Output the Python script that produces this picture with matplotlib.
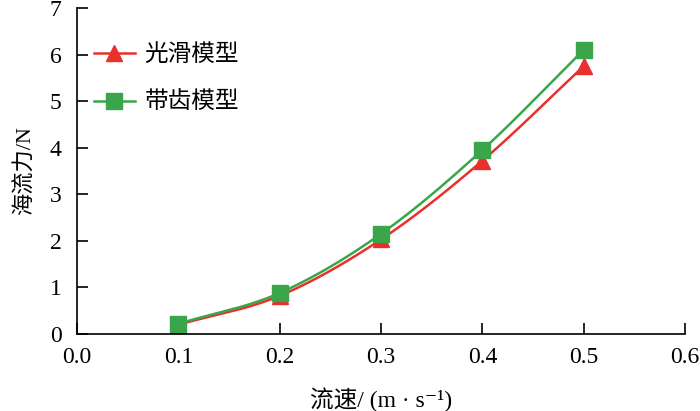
import numpy as np
import matplotlib.pyplot as plt

plt.rcParams['font.family'] = ['Liberation Serif', 'Noto Sans CJK SC', 'DejaVu Sans']

liusu = np.array([0.1, 0.2, 0.3, 0.4, 0.5])
guanghua = np.array([0.20, 0.82, 2.03, 3.72, 5.75])
daichi = np.array([0.22, 0.88, 2.15, 3.95, 6.10])


def smooth(x, y, n=200):
    # catmull-rom through the points, just for drawing the curve
    xs, ys = [], []
    p = np.concatenate([[2 * x[0] - x[1]], x, [2 * x[-1] - x[-2]]])
    q = np.concatenate([[2 * y[0] - y[1]], y, [2 * y[-1] - y[-2]]])
    for i in range(1, len(p) - 2):
        t = np.linspace(0, 1, n)
        for arr, out in ((p, xs), (q, ys)):
            a0, a1, a2, a3 = arr[i - 1], arr[i], arr[i + 1], arr[i + 2]
            out.append(0.5 * (2 * a1 + (-a0 + a2) * t
                              + (2 * a0 - 5 * a1 + 4 * a2 - a3) * t ** 2
                              + (-a0 + 3 * a1 - 3 * a2 + a3) * t ** 3))
    return np.concatenate(xs), np.concatenate(ys)


fig = plt.figure(figsize=(7, 4.11), dpi=100)
ax = fig.add_axes([77 / 700, 1 - 334 / 411, 608 / 700, 326 / 411])

red = '#e8312c'
green = '#3aa54a'
sx, sy = smooth(liusu, guanghua)
ax.plot(sx, sy, color=red, lw=1.8, clip_on=False)
sx, sy = smooth(liusu, daichi)
ax.plot(sx, sy, color=green, lw=1.8, clip_on=False)
ax.plot(liusu, guanghua, '^', color=red, ms=11.5, clip_on=False)
ax.plot(liusu, daichi, 's', color=green, ms=11, clip_on=False)
ax.plot([], [], '-^', color=red, lw=1.8, ms=11.5, label='光滑模型')
ax.plot([], [], '-s', color=green, lw=1.8, ms=11, label='带齿模型')

ax.set_xlim(0, 0.6)
ax.set_ylim(0, 7)
ax.set_xticks(np.arange(0, 0.61, 0.1))
ax.set_xticklabels(['0.0', '0.1', '0.2', '0.3', '0.4', '0.5', '0.6'])
ax.set_yticks(range(8))
ax.tick_params(direction='in', length=8, width=1.2, labelsize=17)
ax.tick_params(axis='y', pad=11)
ax.tick_params(axis='x', pad=9)
for s in ['top', 'right']:
    ax.spines[s].set_visible(False)
for s in ['left', 'bottom']:
    ax.spines[s].set_linewidth(1.2)

ax.set_xlabel('流速/ (m · s⁻¹)', fontsize=17, labelpad=14)
ax.set_ylabel('海流力/N', fontsize=16, labelpad=10)

leg = ax.legend(loc='upper left', bbox_to_anchor=(0.0, 0.94), frameon=False,
                fontsize=17, handlelength=1.75, handletextpad=0.4,
                labelspacing=1.1, borderaxespad=0.3)

fig.savefig('out.png', dpi=100)
